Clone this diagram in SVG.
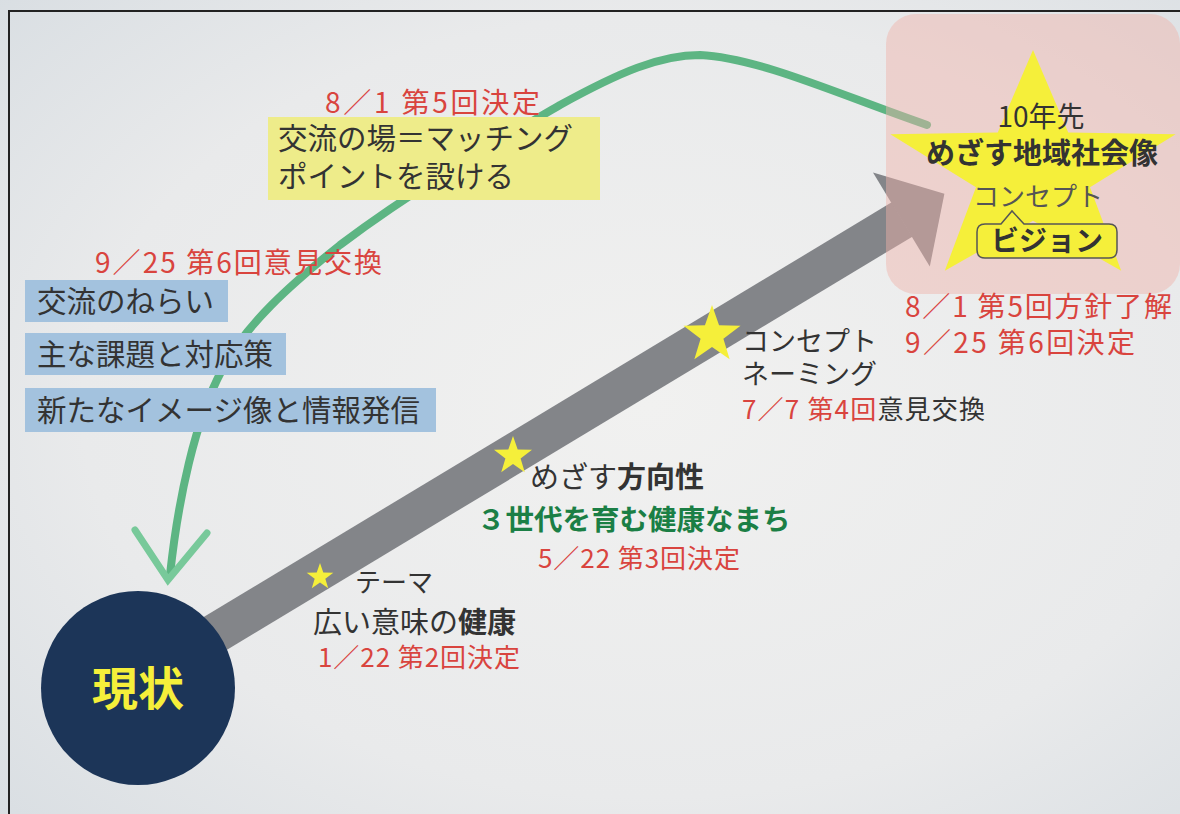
<svg xmlns="http://www.w3.org/2000/svg" xmlns:xlink="http://www.w3.org/1999/xlink" width="1180" height="814" viewBox="0 0 1180 814">
<style>
text{font-family:"Noto Sans CJK JP","Noto Sans",sans-serif;fill:#333}
.red{fill:#d9443e}
.b{font-weight:bold}
.blue{fill:#a3c2de}
.star{fill:#f5ef3a}
</style>
<defs>
<radialGradient id="bg" cx="0.55" cy="0.5" r="0.8">
<stop offset="0" stop-color="#f1f1f0"/>
<stop offset="0.6" stop-color="#e9eaeb"/>
<stop offset="1" stop-color="#d6dce1"/>
</radialGradient>
<path id="st" d="M0,-1 L0.235,-0.324 L0.951,-0.309 L0.38,0.124 L0.588,0.809 L0,0.4 L-0.588,0.809 L-0.38,0.124 L-0.951,-0.309 L-0.235,-0.324 Z"/>
</defs>
<rect x="0" y="0" width="1180" height="814" fill="url(#bg)"/>
<path d="M9,814 V11 H1180" fill="none" stroke="#222" stroke-width="2"/>

<g id="connectors">
<path id="green-curve" d="M170,575 C178,500 195,420 222,370 C245,325 290,285 340,245 C420,185 500,140 560,105 C620,72 660,55 700,55 C760,58 840,95 927,125" fill="none" stroke="#5db583" stroke-width="8" stroke-linecap="round"/>
<polyline points="135,530 168,580 207,533" fill="none" stroke="#78c99a" stroke-width="7" stroke-linecap="round"/>
<g id="gray-arrow" fill="#838589">
<line x1="138" y1="680" x2="902" y2="219.5" stroke="#838589" stroke-width="40"/>
<polygon points="873,172.4 944.4,193.8 929.8,266.6"/>
</g>
</g>

<g id="goal">
<rect x="886" y="14" width="294" height="280" rx="30" fill="#f0b2a8" opacity="0.45"/>
<use xlink:href="#st" class="star" transform="translate(1033,172) scale(150,122)"/>
<text x="1041" y="127" font-size="28" text-anchor="middle">10年先</text>
<text x="1042" y="164" font-size="29" text-anchor="middle" class="b">めざす地域社会像</text>
<text x="1038" y="206" font-size="26" text-anchor="middle" style="fill:#555">コンセプト</text>
<path d="M985,224 H1001 L1012,211 L1024,224 H1109 Q1117,224 1117,232 V250 Q1117,258 1109,258 H985 Q977,258 977,250 V232 Q977,224 985,224 Z" fill="#f5ef3a" stroke="#555" stroke-width="1.5"/>
<text x="1047" y="251" font-size="28" text-anchor="middle" class="b">ビジョン</text>
</g>

<g id="current">
<circle cx="138" cy="688" r="97" fill="#1c3558"/>
<text x="138" y="705" font-size="46" text-anchor="middle" class="b" style="fill:#f5ef3a">現状</text>
</g>

<g id="matching">
<text x="325" y="113" font-size="28" class="red" textLength="215" lengthAdjust="spacing">8／1 第5回決定</text>
<rect x="268" y="117" width="332" height="83" fill="#eeec8a"/>
<text x="278" y="149" font-size="29.5">交流の場＝マッチング</text>
<text x="278" y="187" font-size="29.5">ポイントを設ける</text>
</g>

<g id="exchange">
<text x="95" y="273" font-size="28" class="red" textLength="287" lengthAdjust="spacing">9／25 第6回意見交換</text>
<rect x="25" y="280" width="203" height="42" class="blue"/>
<text x="37" y="312" font-size="29.5">交流のねらい</text>
<rect x="25" y="333" width="261" height="42" class="blue"/>
<text x="37" y="365" font-size="29.5">主な課題と対応策</text>
<rect x="25" y="388" width="411" height="44" class="blue"/>
<text x="37" y="421" font-size="29.5">新たなイメージ像と情報発信</text>
</g>

<g id="theme">
<use xlink:href="#st" class="star" transform="translate(320,577) scale(14)"/>
<text x="355" y="592" font-size="26">テーマ</text>
<text x="313" y="633" font-size="29">広い意味の<tspan class="b">健康</tspan></text>
<text x="318" y="667" font-size="26" class="red" textLength="202" lengthAdjust="spacing">1／22 第2回決定</text>
</g>

<g id="direction">
<use xlink:href="#st" class="star" transform="translate(513,456) scale(20)"/>
<text x="530" y="488" font-size="29">めざす<tspan class="b">方向性</tspan></text>
<text x="477" y="530" font-size="28.5" class="b" style="fill:#1b7f45">３世代を育む健康なまち</text>
<text x="538" y="568" font-size="26" class="red" textLength="202" lengthAdjust="spacing">5／22 第3回決定</text>
</g>

<g id="concept">
<use xlink:href="#st" class="star" transform="translate(712,335) scale(30)"/>
<text x="742" y="351" font-size="27">コンセプト</text>
<text x="742" y="384" font-size="27">ネーミング</text>
<text x="742" y="419" font-size="26" textLength="243" lengthAdjust="spacing"><tspan class="red">7／7 第4回</tspan>意見交換</text>
</g>

<g id="goal-dates">
<text x="905" y="317" font-size="28" class="red" textLength="267" lengthAdjust="spacing">8／1 第5回方針了解</text>
<text x="905" y="353" font-size="28" class="red" textLength="230" lengthAdjust="spacing">9／25 第6回決定</text>
</g>
</svg>
